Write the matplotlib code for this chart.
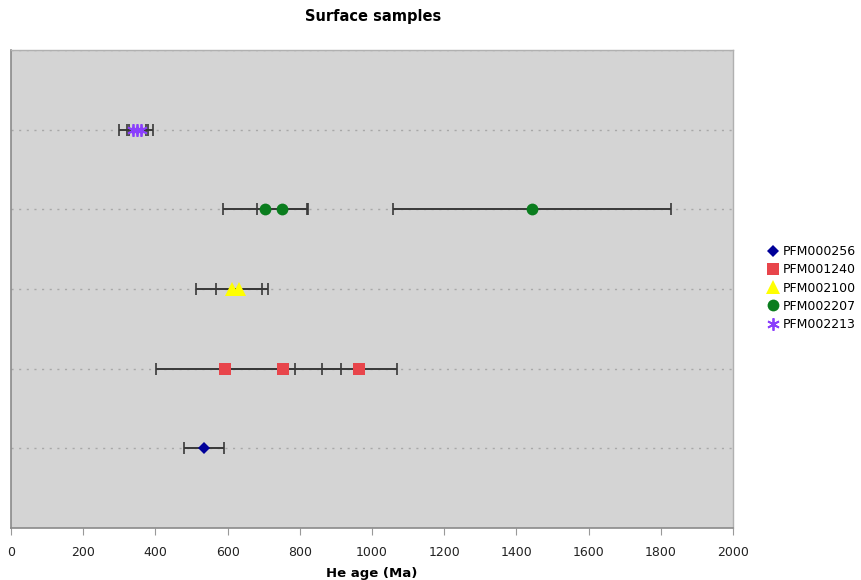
import matplotlib
matplotlib.use("Agg")
import matplotlib.pyplot as plt
from matplotlib.lines import Line2D

# Data (He age in Ma, ±error), one row per sample
samples = ["PFM000256", "PFM001240", "PFM002100", "PFM002207", "PFM002213"]
rows = [1, 2, 3, 4, 5]
ages = [
    [534],
    [594, 753, 965],
    [613, 631],
    [703, 752, 1443],
    [337, 350, 360],
]
errors = [
    [55],
    [193, 160, 103],
    [100, 63],
    [117, 70, 386],
    [38, 30, 33],
]
xticks = [0, 200, 400, 600, 800, 1000, 1200, 1400, 1600, 1800, 2000]

colors = ["#000099", "#e8454b", "#ffff00", "#0a7d1e", "#8a3ffc"]
markers = ["D", "s", "^", "o", (6, 2, 0)]
msizes = [6.5, 8.5, 9.5, 8.5, 9]

fig = plt.figure(figsize=(8.61, 5.8), dpi=100)
ax = fig.add_axes([11 / 861, 1 - 528 / 580, 722 / 861, 478 / 580])
ax.set_facecolor("#d4d4d4")

for y in [1, 2, 3, 4, 5, 6]:
    ax.axhline(y, color="#a8a8a8", linestyle=(0, (1.5, 4)), linewidth=1.0, zorder=1)

for i, name in enumerate(samples):
    xs = ages[i]
    ys = [rows[i]] * len(xs)
    ax.errorbar(xs, ys, xerr=errors[i], fmt="none", ecolor="#383838",
                elinewidth=1.4, capsize=4, capthick=1.2, zorder=2)
    if markers[i] == (6, 2, 0):
        ax.plot(xs, ys, linestyle="none", marker=markers[i], markersize=msizes[i],
                markeredgecolor=colors[i], markerfacecolor=colors[i],
                markeredgewidth=1.3, zorder=3)
    else:
        ax.plot(xs, ys, linestyle="none", marker=markers[i], markersize=msizes[i],
                color=colors[i], markeredgewidth=0, zorder=3)

ax.set_xlim(0, 2000)
ax.set_ylim(0, 6)
ax.set_xticks(xticks)
ax.set_xticklabels([str(t) for t in xticks], fontsize=9, color="#222222")
ax.set_yticks([])
ax.tick_params(axis="x", direction="out", length=5, color="#999999", pad=8)
for side in ["top", "right"]:
    ax.spines[side].set_color("#b0b0b0")
    ax.spines[side].set_linewidth(1.0)
for side in ["left", "bottom"]:
    ax.spines[side].set_color("#8a8a8a")
    ax.spines[side].set_linewidth(1.2)

ax.set_xlabel("He age (Ma)", fontsize=9.5, fontweight="bold", labelpad=6)
fig.text(373 / 861, 1 - 17 / 580, "Surface samples", ha="center", va="center",
         fontsize=10.5, fontweight="bold")

handles = []
for i, name in enumerate(samples):
    if markers[i] == (6, 2, 0):
        h = Line2D([], [], linestyle="none", marker=markers[i], markersize=9,
                   markeredgecolor=colors[i], markerfacecolor=colors[i], markeredgewidth=1.3)
    else:
        h = Line2D([], [], linestyle="none", marker=markers[i], markersize=msizes[i],
                   color=colors[i], markeredgewidth=0)
    handles.append(h)
fig.legend(handles, samples, loc="center left", bbox_to_anchor=(762 / 861, 1 - 288 / 580),
           frameon=False, fontsize=9, handlelength=0.8, handletextpad=0.4,
           labelspacing=0.42, borderpad=0)

fig.savefig("out.png", dpi=100, facecolor="white")
